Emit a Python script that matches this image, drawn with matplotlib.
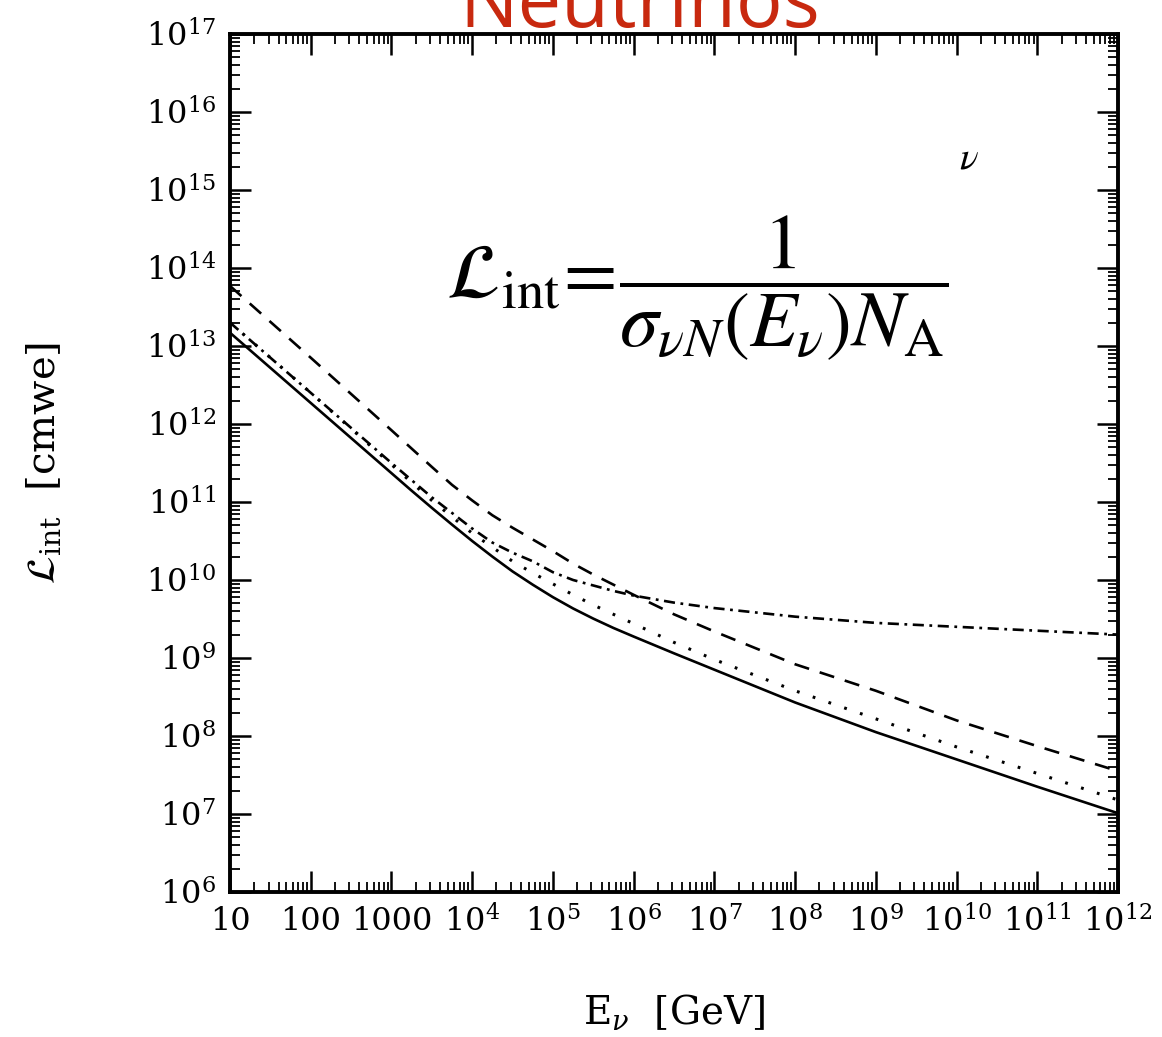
import numpy as np
import matplotlib
matplotlib.use('Agg')
import matplotlib.pyplot as plt
from matplotlib.ticker import LogLocator, FixedLocator, NullFormatter

# Police serif pour tout le graphique
plt.rcParams['font.family'] = ['DejaVu Serif']
plt.rcParams['mathtext.fontset'] = 'dejavuserif'
plt.rcParams['lines.scale_dashes'] = False

# Energies (log10 E en GeV) et longueurs d'interaction (log10 L en cmwe)
log_e_solide = [1, 2, 3, 3.25, 3.5, 3.75, 4, 4.25, 4.5, 4.75, 5, 5.25, 5.5, 5.75, 6, 6.5, 7, 8, 9, 10, 11, 12]
log_solide = [13.17, 12.27, 11.37, 11.145, 10.925, 10.71, 10.50, 10.30, 10.11, 9.94, 9.78, 9.635,
              9.505, 9.385, 9.275, 9.06, 8.85, 8.43, 8.05, 7.70, 7.35, 7.01]

log_e_pointille = [1, 2, 3, 3.5, 4, 4.5, 4.75, 5, 5.25, 5.5, 5.75, 6, 6.5, 7, 8, 9, 10, 11, 12]
log_pointille = [13.3, 12.4, 11.48, 11.02, 10.60, 10.24, 10.09, 9.95, 9.81, 9.68, 9.56, 9.44,
                 9.20, 8.98, 8.58, 8.22, 7.86, 7.52, 7.18]

log_e_tiret = [1, 2, 3, 3.5, 3.75, 4, 4.25, 4.5, 4.75, 5, 5.25, 5.5, 5.75, 6, 6.5, 7, 8, 9, 10, 11, 12]
log_tiret = [13.77, 12.85, 11.92, 11.45, 11.22, 11.02, 10.83, 10.67, 10.52, 10.37, 10.21, 10.07,
             9.94, 9.81, 9.56, 9.34, 8.92, 8.58, 8.20, 7.87, 7.55]

log_e_tiret_point = [1, 2, 3, 3.5, 4, 4.25, 4.5, 4.75, 5, 5.25, 5.5, 5.75, 6, 6.5, 7, 8, 9, 10, 11, 12]
log_tiret_point = [13.3, 12.4, 11.5, 11.06, 10.66, 10.48, 10.35, 10.24, 10.1, 10.0, 9.93, 9.86,
                   9.80, 9.71, 9.64, 9.53, 9.45, 9.40, 9.35, 9.30]

# Etiquettes des axes
x_labels = ['10', '100', '1000'] + ['$10^{%d}$' % k for k in range(4, 13)]
y_labels = ['$10^{%d}$' % k for k in range(6, 18)]

fig = plt.figure(figsize=(11.62, 10.37), dpi=100)
ax = fig.add_axes([230 / 1162, 1 - 892 / 1037, 888 / 1162, 858 / 1037])

# Tracer les quatre courbes
ax.plot(10.0 ** np.array(log_e_solide), 10.0 ** np.array(log_solide),
        color='black', lw=1.9)
ax.plot(10.0 ** np.array(log_e_pointille), 10.0 ** np.array(log_pointille),
        color='black', lw=2.2, linestyle=(0, (2, 10)))
ax.plot(10.0 ** np.array(log_e_tiret), 10.0 ** np.array(log_tiret),
        color='black', lw=1.9, linestyle=(0, (11, 8)))
ax.plot(10.0 ** np.array(log_e_tiret_point), 10.0 ** np.array(log_tiret_point),
        color='black', lw=1.9, linestyle=(0, (8, 4, 2, 4)))

ax.set_xscale('log')
ax.set_yscale('log')
ax.set_xlim(10, 1e12)
ax.set_ylim(1e6, 1e17)

# Graduations
ax.xaxis.set_major_locator(FixedLocator([10.0 ** k for k in range(1, 13)]))
ax.yaxis.set_major_locator(FixedLocator([10.0 ** k for k in range(6, 18)]))
ax.set_xticklabels(x_labels)
ax.set_yticklabels(y_labels)
ax.xaxis.set_minor_locator(LogLocator(base=10, subs=range(2, 10), numticks=100))
ax.yaxis.set_minor_locator(LogLocator(base=10, subs=range(2, 10), numticks=100))
ax.xaxis.set_minor_formatter(NullFormatter())
ax.yaxis.set_minor_formatter(NullFormatter())
ax.tick_params(which='major', direction='in', length=15, width=1.8,
               top=True, right=True, labelsize=23, pad=10)
ax.tick_params(which='minor', direction='in', length=7, width=1.3,
               top=True, right=True)
for s in ax.spines.values():
    s.set_linewidth(2.8)

# Titres des axes
ax.set_xlabel(r'E$_\nu$  [GeV]', fontsize=28, labelpad=38)
ax.set_ylabel(r'$\mathcal{L}_{\rm int}$  [cmwe]', fontsize=29, labelpad=60)

# Formule et symbole nu
ax.text(0.526, 0.703,
        r'$\mathcal{L}_{\rm int}\!=\!\dfrac{1}{\sigma_{\nu N}(E_\nu)N_{\rm A}}$',
        transform=ax.transAxes, ha='center', va='center', fontsize=56,
        math_fontfamily='stix')
ax.text(0.832, 0.856, r'$\nu$', transform=ax.transAxes, ha='center',
        va='center', fontsize=28, math_fontfamily='stix')

# Titre rouge coupe en haut
fig.text(640 / 1162, 1 - 27 / 1037, 'Neutrinos', color='#c8290f',
         fontsize=56, family='Open Sans', ha='center', va='baseline')

fig.savefig('out.png', dpi=100)
